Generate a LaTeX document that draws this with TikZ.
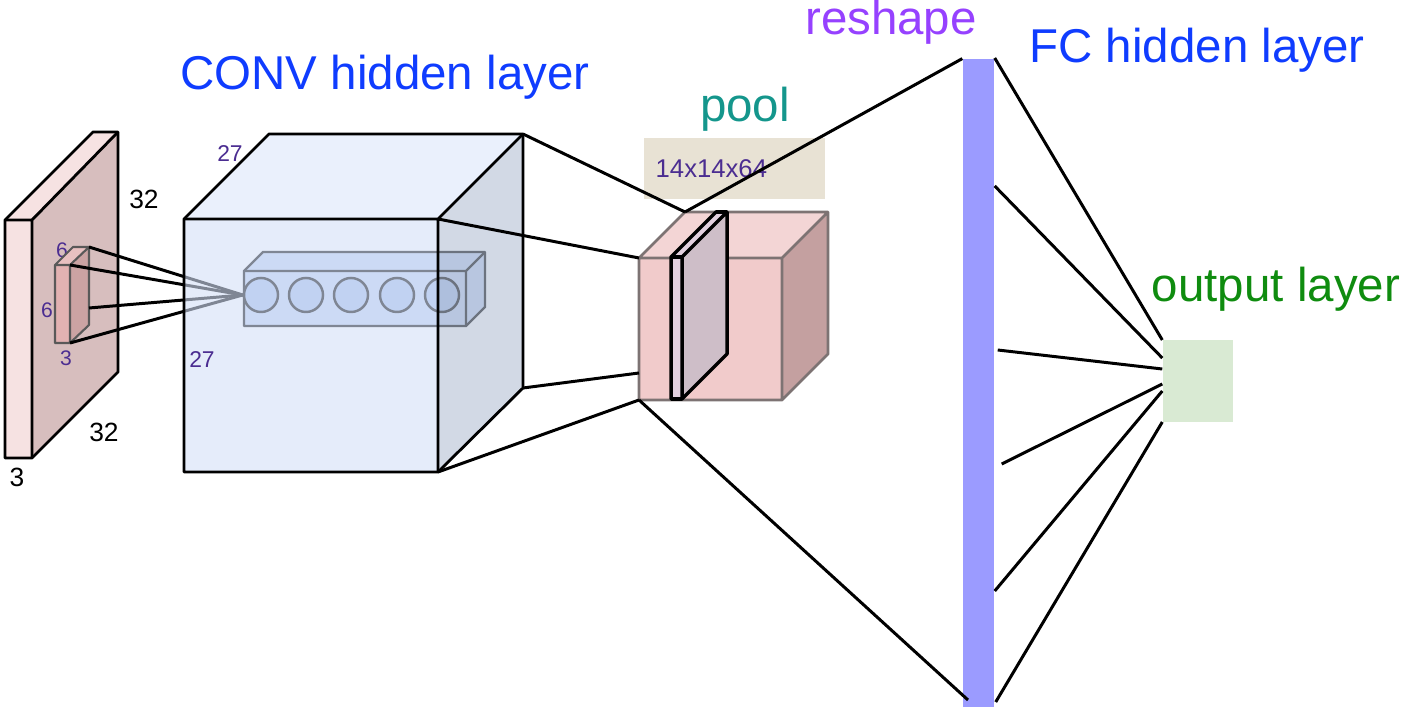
\documentclass[tikz,border=0pt]{standalone}
\usepackage{fontspec}
\setmainfont{Liberation Sans}
\usepackage{tikz}
\usetikzlibrary{positioning,calc}
\definecolor{slabFront}{RGB}{246,226,226}
\definecolor{slabSide}{RGB}{215,190,190}
\definecolor{fieldFront}{RGB}{226,178,178}
\definecolor{fieldSide}{RGB}{203,163,163}
\definecolor{convFront}{RGB}{212,224,247}
\definecolor{convTop}{RGB}{220,230,250}
\definecolor{convSide}{RGB}{180,192,212}
\definecolor{neuronFill}{RGB}{165,190,236}
\definecolor{poolFront}{RGB}{241,203,203}
\definecolor{poolTop}{RGB}{243,213,213}
\definecolor{poolSide}{RGB}{196,160,160}
\definecolor{poolEdge}{RGB}{125,115,115}
\definecolor{sliceFront}{RGB}{226,208,222}
\definecolor{sliceSide}{RGB}{206,190,200}
\definecolor{tagBox}{RGB}{232,226,212}
\definecolor{barBlue}{RGB}{155,155,255}
\definecolor{outGreen}{RGB}{217,234,211}
\definecolor{layerBlue}{RGB}{15,60,255}
\definecolor{reshapePurple}{RGB}{150,65,255}
\definecolor{poolTeal}{RGB}{20,150,140}
\definecolor{outText}{RGB}{15,140,15}
\definecolor{dimPurple}{RGB}{75,45,145}

\begin{document}
\begin{tikzpicture}[x=0.01cm, y=-0.01cm,
    every node/.style={font=\fontsize{13.5}{16}\selectfont, inner sep=0pt},
    edge/.style={draw=black, line width=0.85pt},
    face/.style={draw=black, line width=0.8pt, line join=round},
    dimlabel/.style={font=\fontsize{6.5}{8}\selectfont, text=dimPurple, anchor=base},
    sizelabel/.style={font=\fontsize{7.5}{9}\selectfont, anchor=base},
    neuron/.style={circle, draw=black, line width=0.7pt, fill=neuronFill, minimum size=0.34cm}]
  \useasboundingbox (0,0) rectangle (1403,707);

  % Input volume 32x32x3
  \coordinate (in-ftl) at (5,220);   \coordinate (in-ftr) at (32,220);
  \coordinate (in-fbl) at (5,458);   \coordinate (in-fbr) at (32,458);
  \coordinate (in-btl) at (93,132);  \coordinate (in-btr) at (118,132);
  \coordinate (in-bbr) at (118,372);
  \fill[slabFront] (in-ftl) -- (in-btl) -- (in-btr) -- (in-ftr) -- cycle;
  \fill[slabSide] (in-ftr) -- (in-btr) -- (in-bbr) -- (in-fbr) -- cycle;
  \fill[slabFront] (in-ftl) rectangle (in-fbr);
  \draw[face] (in-ftl) -- (in-btl) -- (in-btr) -- (in-bbr) -- (in-fbr) -- (in-fbl) -- cycle;
  \draw[face] (in-ftl) -- (in-ftr) -- (in-fbr) (in-ftr) -- (in-btr);
  \node[sizelabel] (w32) at (144,209) {32};
  \node[sizelabel] (h32) at (104,442) {32};
  \node[sizelabel] (d3) at (17,487) {3};

  % Receptive field 6x6x3
  \node[dimlabel, font=\fontsize{6}{7}\selectfont] (f6a) at (62,258) {6};
  \node[dimlabel, font=\fontsize{6}{7}\selectfont] (f6b) at (47,318) {6};
  \node[dimlabel, font=\fontsize{6}{7}\selectfont] (f3) at (66,366) {3};
  \coordinate (rf-ftl) at (55,265);  \coordinate (rf-ftr) at (70,265);
  \coordinate (rf-fbl) at (55,343);  \coordinate (rf-fbr) at (70,343);
  \coordinate (rf-btl) at (73,247);  \coordinate (rf-btr) at (89,247);
  \coordinate (rf-bbr) at (89,325);  \coordinate (rf-mid) at (89,308);
  \fill[fieldFront!80] (rf-ftl) -- (rf-btl) -- (rf-btr) -- (rf-ftr) -- cycle;
  \fill[fieldSide] (rf-ftr) -- (rf-btr) -- (rf-bbr) -- (rf-fbr) -- cycle;
  \fill[fieldFront] (rf-ftl) rectangle (rf-fbr);
  \draw[black!65, line width=0.6pt, line join=round] (rf-ftl) -- (rf-btl) -- (rf-btr) -- (rf-bbr) -- (rf-fbr) -- (rf-fbl) -- cycle
    (rf-ftl) -- (rf-ftr) -- (rf-fbr) (rf-ftr) -- (rf-btr);

  % Neurons along the depth column
  \node[neuron] (n1) at (261,295) {};
  % Arrows
  \draw[edge] (rf-btr) -- (n1.west);
  \draw[edge] (rf-ftr) -- (n1.west);
  \draw[edge] (rf-mid) -- (n1.west);
  \draw[edge] (rf-fbr) -- (n1.west);

  \coordinate (nc-ftl) at (244,271); \coordinate (nc-fbr) at (466,326);
  \coordinate (nc-ftr) at (466,271); \coordinate (nc-fbl) at (244,326);
  \coordinate (nc-btl) at (263,252); \coordinate (nc-btr) at (485,252);
  \coordinate (nc-bbr) at (485,307);
  \filldraw[fill=neuronFill!70, draw=black, line width=0.7pt, line join=round]
    (nc-ftl) -- (nc-btl) -- (nc-btr) -- (nc-bbr) -- (nc-fbr) -- (nc-fbl) -- cycle;
  \draw[black, line width=0.7pt] (nc-ftl) -- (nc-ftr) -- (nc-fbr) (nc-ftr) -- (nc-btr);
  \node[neuron] (n1) at (261,295) {};
  \foreach \x [count=\i from 2] in {306,351,397,442}
    \node[neuron] (n\i) at (\x,295) {};

  % CONV volume 27x27
  \coordinate (cv-ftl) at (184,219); \coordinate (cv-ftr) at (438,219);
  \coordinate (cv-fbl) at (184,472); \coordinate (cv-fbr) at (438,472);
  \coordinate (cv-btl) at (269,134); \coordinate (cv-btr) at (523,134);
  \coordinate (cv-bbr) at (523,388);
  \fill[convTop, fill opacity=0.6] (cv-ftl) -- (cv-btl) -- (cv-btr) -- (cv-ftr) -- cycle;
  \fill[convSide, fill opacity=0.6] (cv-ftr) -- (cv-btr) -- (cv-bbr) -- (cv-fbr) -- cycle;
  \fill[convFront, fill opacity=0.6] (cv-ftl) rectangle (cv-fbr);
  \draw[face] (cv-ftl) -- (cv-btl) -- (cv-btr) -- (cv-bbr) -- (cv-fbr) -- (cv-fbl) -- cycle;
  \draw[face] (cv-ftl) -- (cv-ftr) -- (cv-fbr) (cv-ftr) -- (cv-btr);
  \node[dimlabel] (d27a) at (230,162) {27};
  \node[dimlabel] (d27b) at (202,368) {27};
  \node[text=layerBlue, anchor=base] (convlbl) at (385,90) {CONV hidden layer};

  % Pooled volume
  \coordinate (pl-ftl) at (639,258); \coordinate (pl-ftr) at (782,258);
  \coordinate (pl-fbl) at (639,400); \coordinate (pl-fbr) at (782,400);
  \coordinate (pl-btl) at (685,212); \coordinate (pl-btr) at (828,212);
  \coordinate (pl-bbr) at (828,354); \coordinate (pl-mid) at (639,373);
  \node[fill=tagBox, anchor=north west, minimum width=1.81cm, minimum height=0.61cm,
    text width=1.57cm, inner xsep=0.12cm, align=left, text=dimPurple,
    font=\fontsize{7.3}{9}\selectfont] (dims) at (643,137) {14x14x64};
  \node[text=poolTeal, anchor=base] (poollbl) at (745,122) {pool};
  \fill[poolTop] (pl-ftl) -- (pl-btl) -- (pl-btr) -- (pl-ftr) -- cycle;
  \fill[poolSide] (pl-ftr) -- (pl-btr) -- (pl-bbr) -- (pl-fbr) -- cycle;
  \fill[poolFront] (pl-ftl) rectangle (pl-fbr);
  \draw[poolEdge, line width=0.8pt, line join=round]
    (pl-ftl) -- (pl-btl) -- (pl-btr) -- (pl-bbr) -- (pl-fbr) -- (pl-fbl) -- cycle
    (pl-ftl) -- (pl-ftr) -- (pl-fbr) (pl-ftr) -- (pl-btr);

  % Depth slice of the pooled volume
  \coordinate (sl-ftl) at (671,257); \coordinate (sl-ftr) at (682,257);
  \coordinate (sl-fbl) at (671,399); \coordinate (sl-fbr) at (682,399);
  \coordinate (sl-btl) at (716,212); \coordinate (sl-btr) at (727,212);
  \coordinate (sl-bbr) at (727,354);
  \fill[sliceFront] (sl-ftl) -- (sl-btl) -- (sl-btr) -- (sl-ftr) -- cycle;
  \fill[sliceSide] (sl-ftr) -- (sl-btr) -- (sl-bbr) -- (sl-fbr) -- cycle;
  \fill[sliceFront] (sl-ftl) rectangle (sl-fbr);
  \draw[face, line width=1pt] (sl-ftl) -- (sl-btl) -- (sl-btr) -- (sl-bbr) -- (sl-fbr) -- (sl-fbl) -- cycle
    (sl-ftl) -- (sl-ftr) -- (sl-fbr) (sl-ftr) -- (sl-btr);

  % CONV -> pool
  \draw[edge] (cv-btr) -- (pl-btl);
  \draw[edge] (cv-ftr) -- (pl-ftl);
  \draw[edge] (cv-bbr) -- (pl-mid);
  \draw[edge] (cv-fbr) -- (pl-fbl);

  % Reshape bar and FC layer
  \node[fill=barBlue, minimum width=0.31cm, minimum height=6.47cm] (bar) at (978.5,383) {};
  \node[text=reshapePurple, anchor=base] (reshapelbl) at (891,35) {reshape};
  \node[text=layerBlue, anchor=base] (fclbl) at (1197,63) {FC hidden layer};
  \coordinate (bar-low) at (968,700);
  \draw[edge] (pl-btl) -- (bar.north west);
  \draw[edge] (pl-fbl) -- (bar-low);

  % Output layer
  \node[fill=outGreen, minimum width=0.70cm, minimum height=0.82cm] (out) at (1198,381) {};
  \node[text=outText, anchor=base] (outlbl) at (1276,302) {output layer};
  \foreach \gap/\ya/\yb in {0/58/340, 0/186/358, 3/350/369, 7/464/384, 0/591/391, 1/702/422}
    \draw[edge] ($(bar.east |- 0,\ya)+(\gap,0)$) -- (out.west |- 0,\yb);
\end{tikzpicture}
\end{document}
